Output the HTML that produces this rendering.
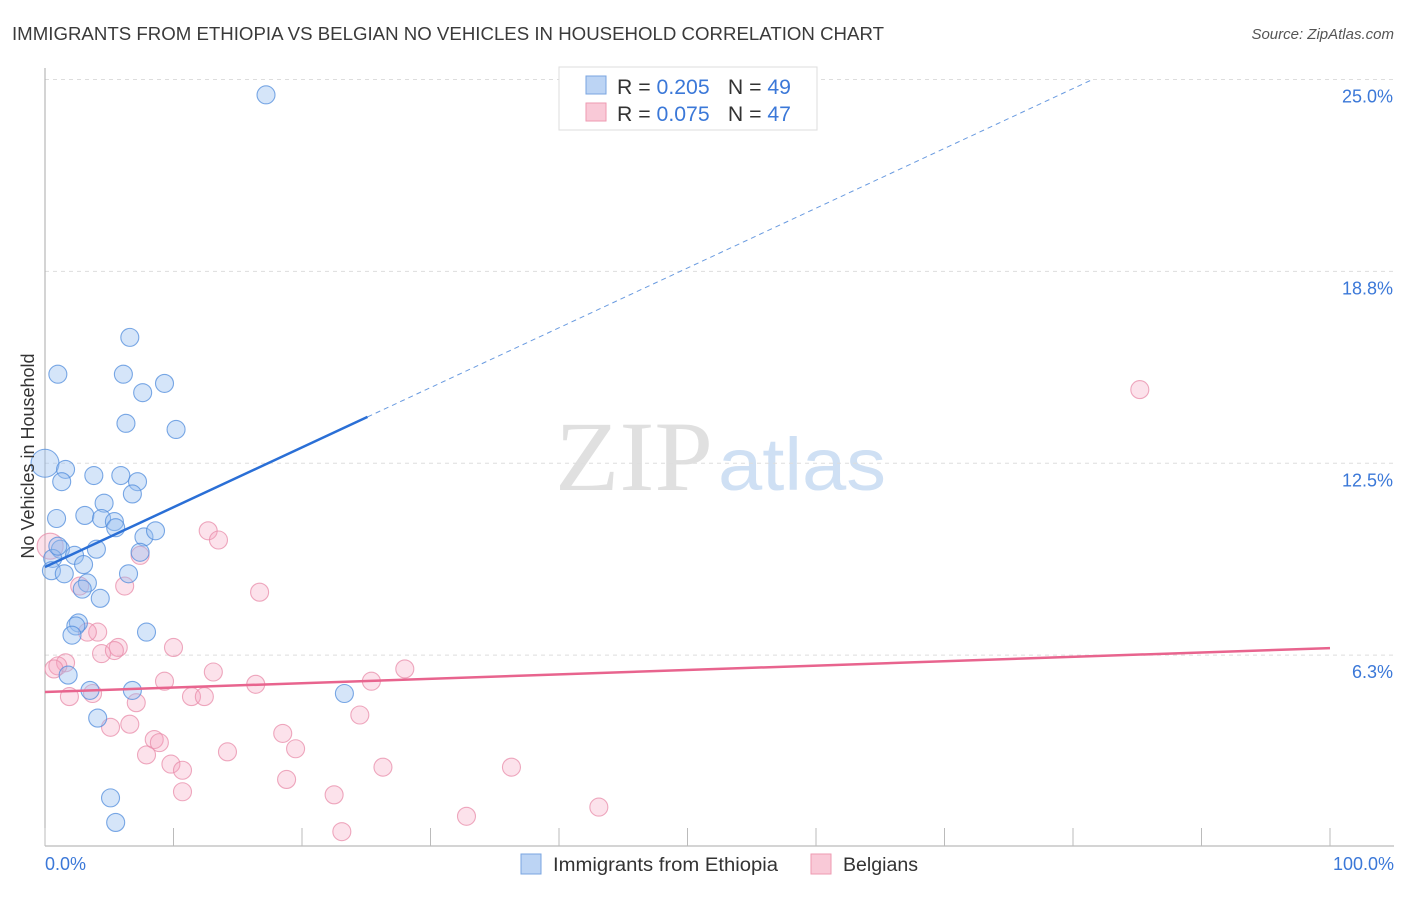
<!DOCTYPE html>
<html><head><meta charset="utf-8"><style>
body{margin:0;background:#fff;font-family:"Liberation Sans",sans-serif}
</style></head><body>
<svg id="c" width="1406" height="892" xmlns="http://www.w3.org/2000/svg" font-family="Liberation Sans, sans-serif">
<text x="12" y="40" font-size="18" fill="#3a3a3a" textLength="872" lengthAdjust="spacingAndGlyphs">IMMIGRANTS FROM ETHIOPIA VS BELGIAN NO VEHICLES IN HOUSEHOLD CORRELATION CHART</text>
<text x="1394" y="39" font-size="15" fill="#555" text-anchor="end" font-style="italic">Source: ZipAtlas.com</text>
<text x="555" y="490" font-size="100" fill="#e0e0e0" textLength="158" lengthAdjust="spacingAndGlyphs" style="font-family:'Liberation Serif',serif">ZIP</text>
<text x="718" y="490" font-size="74" fill="#cfe0f4" textLength="168" lengthAdjust="spacingAndGlyphs">atlas</text>
<g id="grid"></g><g id="axes"></g><g id="pts"></g><g id="trend"></g>
<text transform="translate(34,456) rotate(-90)" font-size="18" fill="#333" text-anchor="middle">No Vehicles in Household</text>
<text x="45" y="870" font-size="18" fill="#3b78d8">0.0%</text>
<text x="1394" y="870" font-size="18" fill="#3b78d8" text-anchor="end">100.0%</text>
<g>
<rect x="559" y="67" width="258" height="63" fill="#fff" stroke="#ddd"/>
<rect x="586" y="76" width="20" height="18" fill="#bcd4f4" stroke="#7aa5e0"/>
<rect x="586" y="103" width="20" height="18" fill="#f9c9d7" stroke="#ee9ab2"/>
<text x="617" y="94" font-size="21" fill="#333" textLength="174" lengthAdjust="spacingAndGlyphs">R = <tspan fill="#3b78d8">0.205</tspan><tspan dx="18">N = </tspan><tspan fill="#3b78d8">49</tspan></text>
<text x="617" y="121" font-size="21" fill="#333" textLength="174" lengthAdjust="spacingAndGlyphs">R = <tspan fill="#3b78d8">0.075</tspan><tspan dx="18">N = </tspan><tspan fill="#3b78d8">47</tspan></text>
</g>
<g>
<rect x="521" y="854" width="20" height="20" fill="#bcd4f4" stroke="#7aa5e0"/>
<text x="553" y="871" font-size="19" fill="#333" textLength="225" lengthAdjust="spacingAndGlyphs">Immigrants from Ethiopia</text>
<rect x="811" y="854" width="20" height="20" fill="#f9c9d7" stroke="#ee9ab2"/>
<text x="843" y="871" font-size="19" fill="#333" textLength="75" lengthAdjust="spacingAndGlyphs">Belgians</text>
</g>
</svg>
<script>
const yTicks=[6.25,12.5,18.75,25];
const yTickLabels=["6.3%","12.5%","18.8%","25.0%"];
const blueX=[17.2,6.6,1.0,6.1,9.3,7.6,6.3,10.2,0,1.6,1.3,3.8,5.9,7.2,6.8,4.6,0.9,3.1,4.4,5.4,5.5,7.7,8.6,1.2,0.6,4.0,7.4,2.3,3.0,0.5,1.5,6.5,3.3,2.9,4.3,2.6,2.4,2.1,7.9,1.8,3.5,6.8,23.3,4.1,5.1,5.5,1.0];
const blueY=[24.5,16.6,15.4,15.4,15.1,14.8,13.8,13.6,12.5,12.3,11.9,12.1,12.1,11.9,11.5,11.2,10.7,10.8,10.7,10.6,10.4,10.1,10.3,9.7,9.4,9.7,9.6,9.5,9.2,9.0,8.9,8.9,8.6,8.4,8.1,7.3,7.2,6.9,7.0,5.6,5.1,5.1,5.0,4.2,1.6,0.8,9.8];
const pinkX=[85.2,12.7,13.5,16.7,7.4,6.2,2.7,4.1,3.3,10.0,5.7,4.4,5.4,1.6,1.0,0.7,13.1,28.0,9.3,16.4,25.4,11.4,12.4,1.9,3.7,7.1,24.5,6.6,5.1,18.5,8.5,8.9,14.2,19.5,7.9,9.8,10.7,26.3,36.3,18.8,10.7,22.5,43.1,32.8,23.1,0.4];
const pinkY=[14.9,10.3,10.0,8.3,9.5,8.5,8.5,7.0,7.0,6.5,6.5,6.3,6.4,6.0,5.9,5.8,5.7,5.8,5.4,5.3,5.4,4.9,4.9,4.9,5.0,4.7,4.3,4.0,3.9,3.7,3.5,3.4,3.1,3.2,3.0,2.7,2.5,2.6,2.6,2.2,1.8,1.7,1.3,1.0,0.5,9.8];
const blueTrend=[9.12,28.6], pinkTrend=[5.05,6.48];
const X=v=>45+v*12.85, Y=v=>847-v*30.7;
const NS="http://www.w3.org/2000/svg";
function mk(t,a,p){const e=document.createElementNS(NS,t);for(const k in a)e.setAttribute(k,a[k]);p.appendChild(e);return e;}
const grid=document.getElementById('grid'),axes=document.getElementById('axes'),pts=document.getElementById('pts'),tr=document.getElementById('trend');
yTicks.forEach((t,i)=>{
 const l=mk('line',{x1:45,x2:1394,y1:Y(t),y2:Y(t),stroke:'#ddd','stroke-dasharray':'4 4'},grid);
 
 
 const tx=mk('text',{x:1393,y:Y(t)+23,'font-size':18,fill:'#3b78d8','text-anchor':'end'},grid);
 tx.textContent=yTickLabels[i];
 
 
});
const ya=mk('line',{x1:45,x2:45,y1:68,y2:846,stroke:'#aaa'},axes);


const xa=mk('line',{x1:45,x2:1394,y1:846,y2:846,stroke:'#aaa'},axes);


for(let i=0;i<=10;i++){const t=mk('line',{x1:X(i*10),x2:X(i*10),y1:828,y2:846,stroke:'#bbb'},axes);
 
 }
pinkX.forEach((x,i)=>{const c=mk('circle',{cx:X(x),cy:Y(pinkY[i]),r:i==pinkX.length-1?13:9,fill:'rgba(244,160,188,0.3)',stroke:'rgba(232,140,170,0.75)','stroke-width':1.1},pts);
 
 });
blueX.forEach((x,i)=>{const c=mk('circle',{cx:X(x),cy:Y(blueY[i]),r:i==8?14:9,fill:'rgba(150,190,240,0.4)',stroke:'rgba(80,140,220,0.75)','stroke-width':1.1},pts);
 
 });
const by=x=>blueTrend[0]+(blueTrend[1]-blueTrend[0])*x/100;
const b1=mk('line',{x1:X(0),y1:Y(by(0)),x2:X(25.1),y2:Y(by(25.1)),stroke:'#2a6fd6','stroke-width':2.5},tr);


const xe=(25-blueTrend[0])/(blueTrend[1]-blueTrend[0])*100;
const b2=mk('line',{x1:X(25.1),y1:Y(by(25.1)),x2:X(xe),y2:Y(25),stroke:'#6a9be0','stroke-width':1,'stroke-dasharray':'5 4'},tr);


const p1=mk('line',{x1:X(0),y1:Y(pinkTrend[0]),x2:X(100),y2:Y(pinkTrend[1]),stroke:'#e8648e','stroke-width':2.5},tr);


</script>
</body></html>
